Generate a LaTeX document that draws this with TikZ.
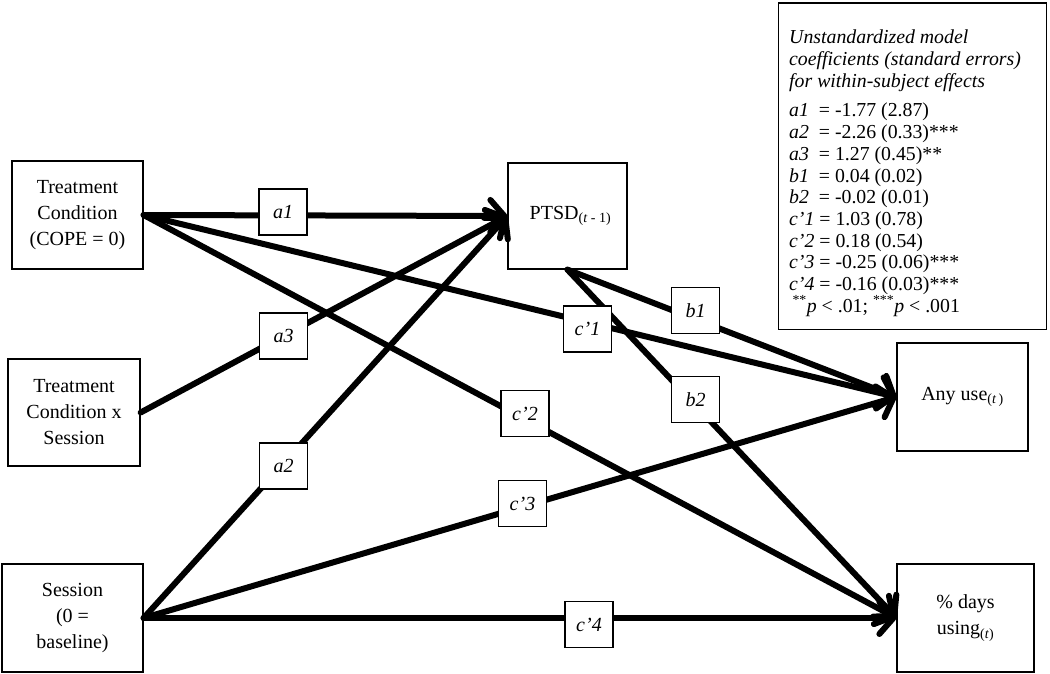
\documentclass[tikz,border=0pt]{standalone}
\usepackage{fontspec}
\setmainfont{Liberation Serif}
\usetikzlibrary{arrows.meta}
\begin{document}
\begin{tikzpicture}[x=1pt,y=-1pt,
  box/.style={draw,line width=1.3pt,inner sep=0pt,font=\fontsize{20}{26}\selectfont,align=center},
  lab/.style={draw,fill=white,line width=1.3pt,minimum width=48pt,minimum height=46pt,inner sep=0pt,font=\fontsize{20}{24}\selectfont\itshape},
  conn/.style={line width=6pt,line cap=round,-{Straight Barb[length=14pt,width=32pt,round]}},
]
\useasboundingbox (0,0) rectangle (1050,674);
% main boxes
\node[box,minimum width=131pt,minimum height=108pt] (tc) at (77.5,215) {Treatment\\Condition\\(COPE = 0)};
\node[box,minimum width=132pt,minimum height=107pt] (tcs) at (74,412.5) {Treatment\\Condition x\\Session};
\node[box,minimum width=141pt,minimum height=108pt] (ses) at (72.5,618) {Session\\(0 =\\baseline)};
\node[box,minimum width=119pt,minimum height=106pt] (ptsd) at (567.5,216) {\hspace{6pt}PTSD\textsubscript{(\textit{t} - 1)}};
\node[box,minimum width=131pt,minimum height=108pt] (any) at (962.5,397) {Any use\textsubscript{(\textit{t}\,)}};
\node[box,minimum width=137pt,minimum height=108pt] (days) at (965.5,618) {\% days\\using\textsubscript{(\textit{t})}};
% connectors
\draw[conn] (tc.east) -- (ptsd.west);
\draw[conn] (tcs.east) -- (ptsd.west);
\draw[conn] (ses.east) -- (ptsd.west);
\draw[conn] (tc.east) -- (any.west);
\draw[conn] (tc.east) -- (days.west);
\draw[conn] (ses.east) -- (any.west);
\draw[conn] (ses.east) -- (days.west);
\draw[conn] (ptsd.south) -- (any.west);
\draw[conn] (ptsd.south) -- (days.west);
% path labels
\node[lab] (la1) at (283,212) {a1};
\node[lab] (la3) at (283.5,336) {a3};
\node[lab] (la2) at (283.5,466) {a2};
\node[lab] (lc1) at (587.5,329) {c’1};
\node[lab] (lc2) at (525,413.5) {c’2};
\node[lab] (lc3) at (522.5,503.5) {c’3};
\node[lab] (lc4) at (589,624.5) {c’4};
\node[lab] (lb1) at (695.5,310.5) {b1};
\node[lab] (lb2) at (695.5,399.5) {b2};
% legend
\node[draw,line width=1.3pt,minimum width=268pt,minimum height=326.5pt,anchor=north west,inner sep=0pt] (leg) at (777.5,2.5) {};
\node[anchor=north west,inner sep=0pt,align=left,font=\fontsize{19.8}{21.7}\selectfont] (legtext) at (789,30) {%
\textit{Unstandardized model}\\[0.3pt]
\textit{coefficients (standard errors)}\\[0.3pt]
\textit{for within-subject effects}\\[7.3pt]
\textit{a1}\ \ = -1.77 (2.87)\\
\textit{a2}\ \ = -2.26 (0.33)***\\
\textit{a3}\ \ = 1.27 (0.45)**\\
\textit{b1}\ \ = 0.04 (0.02)\\
\textit{b2}\ \ = -0.02 (0.01)\\
\textit{c’1} = 1.03 (0.78)\\
\textit{c’2} = 0.18 (0.54)\\
\textit{c’3} = -0.25 (0.06)***\\
\textit{c’4} = -0.16 (0.03)***\\
\,\textsuperscript{**}\textit{p} < .01; \textsuperscript{***}\textit{p} < .001};
\end{tikzpicture}
\end{document}
